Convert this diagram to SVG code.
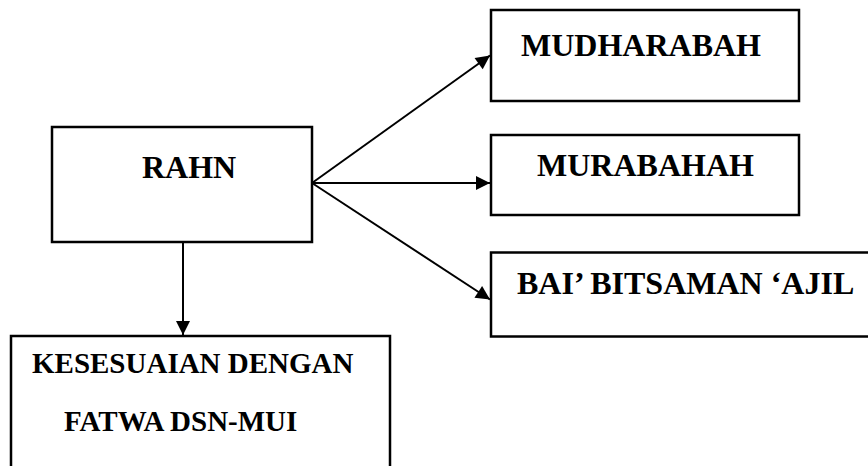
<svg xmlns="http://www.w3.org/2000/svg" width="868" height="466" viewBox="0 0 868 466">
<style>
.box{fill:#fff;stroke:#000;stroke-width:2.5}
.t{font-family:"Liberation Serif","Times New Roman",serif;font-weight:bold;fill:#000}
.c{stroke:#000;stroke-width:2;fill:none}
</style>
<defs>
<marker id="ah" markerUnits="userSpaceOnUse" markerWidth="16" markerHeight="16" viewBox="0 0 16 16" refX="15" refY="8" orient="auto">
<path d="M1,1 L15,8 L1,15 Z" fill="#000"/>
</marker>
</defs>
<rect width="868" height="466" fill="#fff"/>
<g id="connectors">
<line class="c" x1="312" y1="183" x2="490" y2="55.5" marker-end="url(#ah)"/>
<line class="c" x1="312" y1="183" x2="490" y2="183" marker-end="url(#ah)"/>
<line class="c" x1="312" y1="183" x2="490" y2="299.5" marker-end="url(#ah)"/>
<line class="c" x1="183" y1="242" x2="183" y2="335" marker-end="url(#ah)"/>
</g>
<g id="rahn">
<rect class="box" x="52" y="127" width="260" height="115"/>
<text class="t" x="142" y="178" font-size="32">RAHN</text>
</g>
<g id="mudharabah">
<rect class="box" x="491" y="10" width="308" height="91"/>
<text class="t" x="521" y="56" font-size="32">MUDHARABAH</text>
</g>
<g id="murabahah">
<rect class="box" x="491" y="135" width="308" height="80"/>
<text class="t" x="537" y="176" font-size="32">MURABAHAH</text>
</g>
<g id="bai">
<rect class="box" x="491" y="252.5" width="400" height="84"/>
<text class="t" x="517" y="294" font-size="32">BAI’ BITSAMAN ‘AJIL</text>
</g>
<g id="kesesuaian">
<rect class="box" x="11" y="336" width="379" height="160"/>
<text class="t" x="32" y="373" font-size="29">KESESUAIAN DENGAN</text>
<text class="t" x="64" y="431" font-size="29">FATWA DSN-MUI</text>
</g>
</svg>
